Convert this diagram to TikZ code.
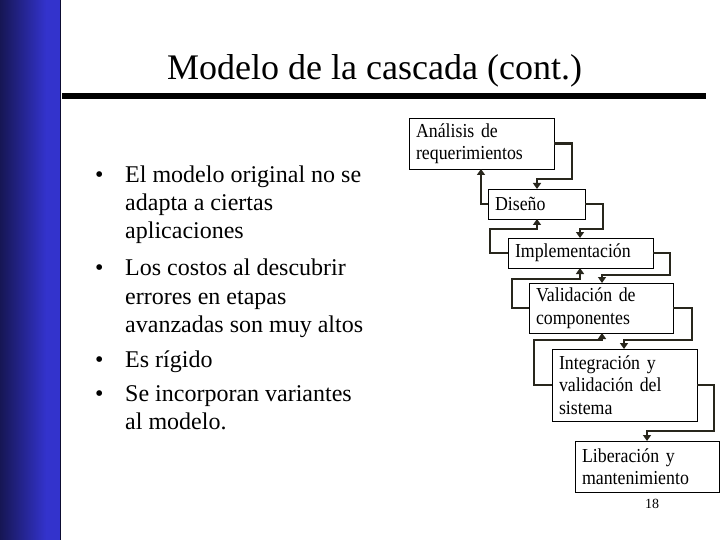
\documentclass[tikz,border=0pt]{standalone}
\usepackage{fontspec}
\setmainfont{Liberation Serif}
\newfontfamily\boxfont[FakeStretch=0.9]{Liberation Serif}
\usetikzlibrary{arrows.meta}
\definecolor{barDark}{RGB}{22,22,84}
\definecolor{barBlue}{RGB}{51,51,204}
\definecolor{connC}{RGB}{40,38,28}
\begin{document}
\begin{tikzpicture}[x=1pt,y=-1pt,
  stage/.style={draw=black, line width=0.9pt, rectangle, anchor=north west, align=left,
    inner xsep=7pt, inner ysep=0pt, outer sep=0pt, font=\boxfont\fontsize{19.8}{22.5}\selectfont},
  conn/.style={draw=connC, line width=2.6pt, -{Triangle[width=8pt,length=6pt]}},
  txt/.style={anchor=base west, inner sep=0pt, font=\fontsize{24}{28}\selectfont},
]
\useasboundingbox (0,0) rectangle (720,540);
% left bar and title rule
\shade[left color=barDark, right color=barBlue] (0,0) rectangle (46,540);
\fill[barBlue] (46,0) rectangle (60,540);
\draw[line width=1pt, barDark!60!black] (60,0) -- (60,540);
\draw[line width=6pt] (62,96) -- (706,96);
% title
\node[anchor=base west, inner sep=0pt, font=\fontsize{36}{40}\selectfont] (title) at (167,80) {Modelo de la cascada (cont.)};
% bullets
\node[txt] (d1) at (95,183) {•};
\node[txt] (l11) at (125,183) {El modelo original no se};
\node[txt] (l12) at (125,211) {adapta a ciertas};
\node[txt] (l13) at (125,239) {aplicaciones};
\node[txt] (d2) at (95,275) {•};
\node[txt] (l21) at (125,275) {Los costos al descubrir};
\node[txt] (l22) at (125,304) {errores en etapas};
\node[txt] (l23) at (125,332) {avanzadas son muy altos};
\node[txt] (d3) at (95,367) {•};
\node[txt] (l31) at (125,367) {Es rígido};
\node[txt] (d4) at (95,401) {•};
\node[txt] (l41) at (125,401) {Se incorporan variantes};
\node[txt] (l42) at (125,429) {al modelo.};
% stages
\node[stage, text width=131pt, minimum height=51pt] (s1) at (409,118) {Análisis de\\requerimientos};
\node[stage, text width=83pt, minimum height=30pt] (s2) at (488,189) {Diseño};
\node[stage, text width=131pt, minimum height=30pt] (s3) at (508,238) {Implementación};
\node[stage, text width=130pt, minimum height=50pt] (s4) at (529,283) {Validación de\\componentes};
\node[stage, text width=131pt, minimum height=72pt] (s5) at (552,349) {Integración y\\validación del\\sistema};
\node[stage, text width=130pt, minimum height=51pt] (s6) at (575,441) {Liberación y\\mantenimiento};
% forward connectors
\draw[conn] (s1.east) -| (572,179) -- (537,179) -- (s2.north -| 537,0);
\draw[conn] (s2.east) -| (603,229) -- (580,229) -- (s3.north -| 580,0);
\draw[conn] (s3.east) -| (670,275) -- (602,275) -- (s4.north -| 602,0);
\draw[conn] (s4.east) -| (692,340) -- (624,340) -- (s5.north -| 624,0);
\draw[conn] (s5.east) -| (714,431) -- (647,431) -- (s6.north -| 647,0);
% backward connectors
\draw[conn] (s2.west) -| (s1.south -| 481,0);
\draw[conn] (s3.west) -| (490,229) -- (537,229) -- (s2.south -| 537,0);
\draw[conn] (s4.west) -| (512,279) -- (580,279) -- (s3.south -| 580,0);
\draw[conn] (s5.west) -| (534,340) -- (602,340) -- (s4.south -| 602,0);
% page number
\node[anchor=base, inner sep=0pt, font=\fontsize{14}{16}\selectfont] (pg) at (652,508) {18};
\end{tikzpicture}
\end{document}
